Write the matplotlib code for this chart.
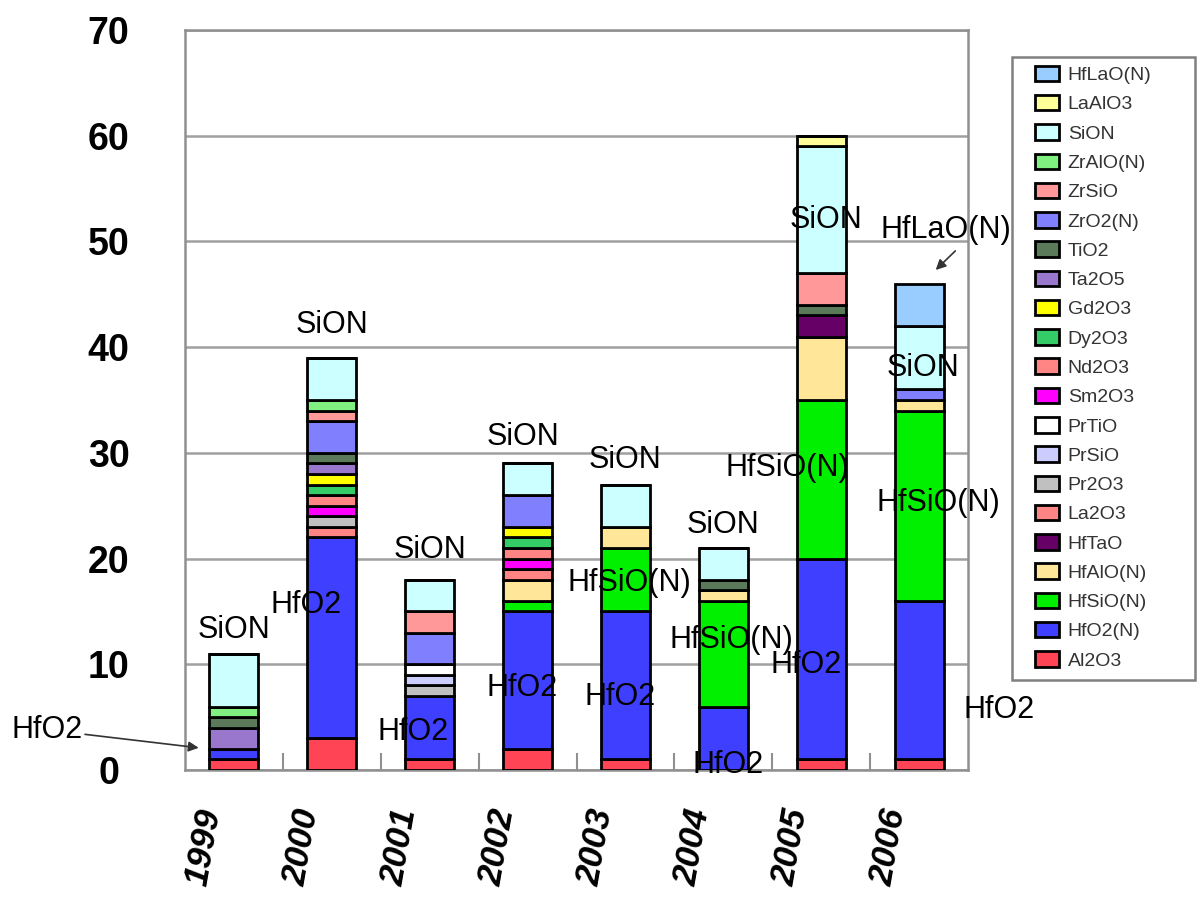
import numpy as np
import matplotlib.pyplot as plt
import matplotlib.transforms as mtransforms
from matplotlib.patches import Rectangle

plt.rcParams['font.family'] = ['Liberation Sans', 'DejaVu Sans']

###################################################
# data : number of reports per material and year
years = ['1999', '2000', '2001', '2002', '2003', '2004', '2005', '2006']

al2o3  = [1, 3, 1, 2, 1, 0, 1, 1]
hfo2   = [1, 19, 6, 13, 14, 6, 19, 15]
hfsio  = [0, 0, 0, 1, 6, 10, 15, 18]
hfalo  = [0, 0, 0, 2, 2, 1, 6, 1]
hftao  = [0, 0, 0, 0, 0, 0, 2, 0]
la2o3  = [0, 1, 0, 1, 0, 0, 0, 0]
pr2o3  = [0, 1, 1, 0, 0, 0, 0, 0]
prsio  = [0, 0, 1, 0, 0, 0, 0, 0]
prtio  = [0, 0, 1, 0, 0, 0, 0, 0]
sm2o3  = [0, 1, 0, 1, 0, 0, 0, 0]
nd2o3  = [0, 1, 0, 1, 0, 0, 0, 0]
dy2o3  = [0, 1, 0, 1, 0, 0, 0, 0]
gd2o3  = [0, 1, 0, 1, 0, 0, 0, 0]
ta2o5  = [2, 1, 0, 0, 0, 0, 0, 0]
tio2   = [1, 1, 0, 0, 0, 1, 1, 0]
zro2   = [0, 3, 3, 3, 0, 0, 0, 1]
zrsio  = [0, 1, 2, 0, 0, 0, 3, 0]
zralo  = [1, 1, 0, 0, 0, 0, 0, 0]
sion   = [5, 4, 3, 3, 4, 3, 12, 6]
laalo3 = [0, 0, 0, 0, 0, 0, 1, 0]
hflao  = [0, 0, 0, 0, 0, 0, 0, 4]

# stacking order, bottom to top
names = ['Al2O3', 'HfO2(N)', 'HfSiO(N)', 'HfAlO(N)', 'HfTaO', 'La2O3', 'Pr2O3',
         'PrSiO', 'PrTiO', 'Sm2O3', 'Nd2O3', 'Dy2O3', 'Gd2O3', 'Ta2O5', 'TiO2',
         'ZrO2(N)', 'ZrSiO', 'ZrAlO(N)', 'SiON', 'LaAlO3', 'HfLaO(N)']
series = [al2o3, hfo2, hfsio, hfalo, hftao, la2o3, pr2o3, prsio, prtio, sm2o3,
          nd2o3, dy2o3, gd2o3, ta2o5, tio2, zro2, zrsio, zralo, sion, laalo3, hflao]
colors = ['#FF4455', '#3F3FFF', '#00F000', '#FFE699', '#660066', '#FF8585', '#C0C0C0',
          '#CCCCFF', '#FFFFFF', '#FF00FF', '#FF8585', '#33CC66', '#FFFF00', '#9977CC', '#5A7A5A',
          '#8080FF', '#FF9999', '#80F080', '#CCFFFF', '#FFFF99', '#99CCFF']

# annotations : text, x (bar index), y
labels = [('SiON', 0.0, 13.2), ('SiON', 1.0, 42.1), ('HfO2', 0.74, 15.6),
          ('SiON', 2.0, 20.8), ('HfO2', 1.83, 3.6),
          ('SiON', 2.95, 31.5), ('HfO2', 2.94, 7.8),
          ('SiON', 4.0, 29.3), ('HfSiO(N)', 4.04, 17.7), ('HfO2', 3.94, 6.9),
          ('SiON', 5.0, 23.2), ('HfSiO(N)', 5.08, 12.3), ('HfO2', 5.05, 0.5),
          ('SiON', 6.05, 52.0), ('HfSiO(N)', 5.65, 28.6), ('HfO2', 5.85, 9.9),
          ('SiON', 7.04, 38.0), ('HfSiO(N)', 7.2, 25.3), ('HfO2', 7.82, 5.7)]
###################################################

fig = plt.figure(figsize=(11.97, 9.08), dpi=100)
ax = fig.add_axes([185/1197, 138/908, 783/1197, 740/908])

x = np.arange(len(years))
bottom = np.zeros(len(years))
handles = []
for name, vals, col in zip(names, series, colors):
  vals = np.array(vals, dtype=float)
  b = ax.bar(x, vals, 0.5, bottom=bottom, color=col, edgecolor='black',
             linewidth=2, label=name, zorder=3)
  handles.append(b)
  bottom = bottom + vals

ax.set_xlim(-0.5, 7.5)
ax.set_ylim(0, 70)
ax.set_yticks(np.arange(0, 71, 10))
ax.yaxis.grid(True, color='#A0A0A0', linewidth=1.8, zorder=0)
ax.set_axisbelow(True)
for s in ax.spines.values():
  s.set_color('#909090')
  s.set_linewidth(1.8)

ax.tick_params(axis='y', length=0, pad=55, labelsize=27)
for t in ax.get_yticklabels():
  t.set_fontweight('bold')
  t.set_horizontalalignment('center')

ax.set_xticks(x)
ax.set_xticklabels(years, rotation=80, fontsize=25, fontweight='bold',
                   fontstyle='italic')
ax.tick_params(axis='x', which='major', length=0, pad=26)
ax.set_xticks(x[:-1] + 0.5, minor=True)
ax.tick_params(axis='x', which='minor', direction='in', length=12,
               color='#909090', width=1.5)
offset = mtransforms.ScaledTranslation(-0.30, 0, fig.dpi_scale_trans)
for t in ax.get_xticklabels():
  t.set_transform(t.get_transform() + offset)

for txt, xx, yy in labels:
  ax.text(xx, yy, txt, fontsize=22, ha='center', va='center', zorder=6)

ax.annotate('HfO2', xy=(-0.36, 2.1), xytext=(-1.55, 3.8), fontsize=22,
            ha='right', va='center', annotation_clip=False,
            arrowprops=dict(arrowstyle='-|>', color='#333333', lw=1.2,
                            shrinkA=0, shrinkB=0, mutation_scale=15))
ax.annotate('HfLaO(N)', xy=(7.17, 47.4), xytext=(7.27, 51.1), fontsize=22,
            ha='center', va='center', annotation_clip=False, zorder=6)
ax.annotate('', xy=(7.17, 47.3), xytext=(7.37, 49.1), annotation_clip=False,
            arrowprops=dict(arrowstyle='-|>', color='#333333', lw=1.2,
                            shrinkA=0, shrinkB=0, mutation_scale=15))

# legend box reaching the right edge, like the original
fig.patches.append(Rectangle((1012/1197, 1 - 680/908), 183/1197, 623/908,
                             transform=fig.transFigure, fill=False,
                             edgecolor='#808080', linewidth=1.8))
leg = fig.legend(handles[::-1], names[::-1], loc='upper left',
                 bbox_to_anchor=(1024/1197, 1 - 55/908), fontsize=14,
                 labelspacing=0.555, handlelength=1.25, handleheight=0.85,
                 handletextpad=0.45, borderpad=0.55, borderaxespad=0,
                 frameon=False, labelcolor='#333333')

plt.savefig('out.png', dpi=100)
